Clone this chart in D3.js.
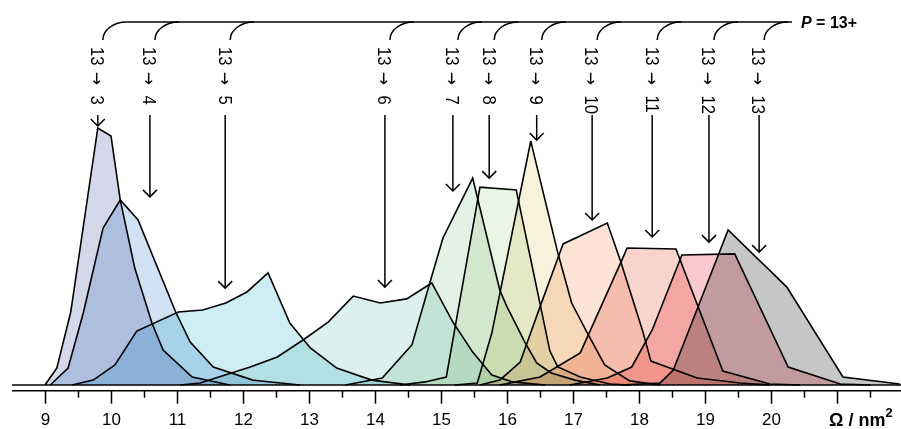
<!DOCTYPE html>
<html>
<head>
<meta charset="utf-8">
<script src="https://cdn.jsdelivr.net/npm/d3@7"></script>
<style>
  html, body { margin: 0; padding: 0; background: #fff; }
  svg { display: block; font-family: "Liberation Sans", Arial, Helvetica, sans-serif; }
  .dist { mix-blend-mode: multiply; }
</style>
</head>
<body>
<svg id="chart" width="901" height="429"></svg>
<script>
// Collision cross section distributions of the fragments from the 13+ precursor.
// Each series: [omega (nm^2), relative intensity (%)]
const precursor = "13";
const products = ["3", "4", "5", "6", "7", "8", "9", "10", "11", "12", "13"];

const dist3  = [[9.00,0],[9.18,6.6],[9.39,28.4],[9.80,100],[10.00,96.9],[10.14,72.0],[10.36,45.5],[10.62,24.1],[10.79,13.6],[11.23,3.1],[11.80,0]];
const dist4  = [[9.08,0],[9.35,6.6],[9.58,28.0],[9.88,61.1],[10.14,72.0],[10.41,64.2],[10.98,28.4],[11.20,16.7],[11.55,7.0],[12.15,1.9],[12.86,0]];
const dist5  = [[9.41,0],[9.73,1.9],[10.06,7.8],[10.39,21.0],[11.02,28.4],[11.39,29.2],[11.74,31.9],[12.06,36.2],[12.38,43.6],[12.71,24.1],[13.02,14.4],[13.42,6.6],[13.95,1.9],[14.53,0]];
const dist6  = [[11.05,0],[11.35,0.8],[12.11,7.0],[12.52,10.9],[12.91,17.5],[13.29,24.5],[13.67,34.6],[14.08,31.9],[14.48,33.5],[14.86,39.7],[15.18,24.5],[15.48,12.8],[15.77,3.9],[16.08,1.2],[16.58,0]];
const dist7  = [[13.55,0],[14.11,2.7],[14.56,15.6],[14.83,39.7],[15.03,57.2],[15.48,80.5],[15.89,37.0],[16.00,30.4],[16.27,16.7],[16.45,8.6],[16.67,4.7],[17.03,1.9],[17.41,0]];
const dist8  = [[14.38,0],[14.76,1.2],[15.08,3.1],[15.59,77.0],[16.14,75.9],[16.65,13.2],[16.77,7.0],[17.11,3.1],[17.56,0.4],[17.86,0]];
const dist9  = [[15.21,0],[15.55,0.8],[15.77,20.2],[16.36,94.9],[16.77,51.4],[16.98,31.9],[17.21,20.6],[17.48,7.8],[17.86,1.6],[18.32,0]];
const dist10 = [[15.59,0],[15.89,1.9],[16.20,8.9],[16.50,30.4],[16.85,54.9],[17.52,63.0],[17.73,47.5],[18.06,20.6],[18.18,9.3],[18.88,2.7],[19.53,0.8],[19.98,0]];
const dist11 = [[15.89,0],[16.50,3.1],[17.11,12.5],[17.74,48.6],[17.82,53.3],[18.56,52.9],[19.27,5.4],[19.98,0.4],[20.44,0]];
const dist12 = [[16.95,0],[17.52,2.7],[17.89,7.0],[18.20,21.4],[18.65,50.6],[19.45,51.0],[20.26,7.0],[21.05,0.4],[21.50,0]];
const dist13 = [[17.71,0],[18.32,0.8],[18.52,5.8],[19.35,60.3],[20.24,38.1],[21.09,3.1],[21.95,0.4]];

// Arrow annotations: omega position and the intensity the arrow points at
const arrowOmega = [9.80, 10.59, 11.73, 14.15, 15.18, 15.73, 16.45, 17.29, 18.20, 19.06, 19.82];
const arrowTip   = [100.8, 73.2, 37.7, 38.1, 75.5, 80.5, 95.3, 64.2, 57.6, 55.6, 51.7];

const majorTicks = [9, 10, 11, 12, 13, 14, 15, 16, 17, 18, 19, 20, 21];
const tickLabels = ["9", "10", "11", "12", "13", "14", "15", "16", "17", "18", "19", "20", ""];
const minorTicks = [9.5, 10.5, 11.5, 12.5, 13.5, 14.5, 15.5, 16.5, 17.5, 18.5, 19.5, 20.5, 21.5];

const series = [dist3, dist4, dist5, dist6, dist7, dist8, dist9, dist10, dist11, dist12, dist13];
const fills = ["#d5d8eb", "#cfe1f2", "#ceeef6", "#dcf0ee", "#e3f2e7", "#ebf5e3",
               "#f8f2dd", "#fde4d6", "#f9d4cd", "#f9c8cc", "#c6c6c6"];

const svg = d3.select("#chart");
const x = d3.scaleLinear().domain([8.5, 22]).range([12, 903]);
const y = d3.scaleLinear().domain([0, 100]).range([385, 128]);

// filled distributions
const area = d3.area().x(d => x(d[0])).y0(y(0)).y1(d => y(d[1]));
const line = d3.line().x(d => x(d[0])).y(d => y(d[1]));

const gDist = svg.append("g");
series.forEach((s, i) => {
  gDist.append("path").attr("class", "dist").attr("d", area(s))
    .attr("fill", fills[i]).attr("stroke", "none");
});
series.forEach(s => {
  gDist.append("path").attr("d", line(s))
    .attr("fill", "none").attr("stroke", "#000").attr("stroke-width", 1.6)
    .attr("stroke-linejoin", "miter").attr("stroke-miterlimit", 3);
});

// zero line
svg.append("line").attr("x1", 12).attr("x2", 901).attr("y1", y(0)).attr("y2", y(0))
  .attr("stroke", "#000").attr("stroke-width", 1.3);

// x axis
const axisY = 390.7;
const gMajor = svg.append("g").attr("transform", `translate(0,${axisY})`)
  .call(d3.axisBottom(x).tickValues(majorTicks).tickSize(13).tickSizeOuter(0)
    .tickFormat((d, i) => tickLabels[i]));
const gMinor = svg.append("g").attr("transform", `translate(0,${axisY})`)
  .call(d3.axisBottom(x).tickValues(minorTicks).tickSize(7).tickSizeOuter(0).tickFormat(""));
[gMajor, gMinor].forEach(g => {
  g.select(".domain").remove();
  g.selectAll(".tick line").attr("stroke", "#000").attr("stroke-width", 1.5);
});
gMajor.selectAll(".tick text").attr("y", 34.8).attr("dy", 0)
  .attr("font-size", 17).attr("fill", "#000")
  .attr("font-family", "'Liberation Sans', Arial, sans-serif");
svg.append("line").attr("x1", 12).attr("x2", 901).attr("y1", axisY).attr("y2", axisY)
  .attr("stroke", "#000").attr("stroke-width", 1.4);

// axis title
const title = svg.append("text").attr("x", 829).attr("y", 425.5)
  .attr("font-size", 18).attr("font-weight", "bold").attr("fill", "#000");
title.append("tspan").text("Ω / nm");
title.append("tspan").attr("dy", -9).attr("font-size", 13).text("2");

// fragment labels, arrows and precursor bracket
const labelTop = 47, arrowStart = 115, hookBottom = 40, barY = 22;
const gAnn = svg.append("g").attr("fill", "none").attr("stroke", "#000").attr("stroke-width", 1.5);

products.forEach((p, i) => {
  const xl = x(arrowOmega[i]);
  const t = svg.append("text")
    .attr("transform", `translate(${xl},${labelTop}) rotate(90) scale(0.88,1)`)
    .attr("font-size", 19).attr("fill", "#000");
  t.append("tspan").attr("x", 0).attr("dy", "0.35em").text(precursor);
  t.append("tspan").attr("x", 28).attr("font-family", "'DejaVu Sans', sans-serif")
    .attr("font-size", 18).text("→");
  t.append("tspan").attr("x", 55).attr("font-size", 19).text(p);

  const tip = y(arrowTip[i]);
  gAnn.append("line").attr("x1", xl).attr("x2", xl).attr("y1", arrowStart).attr("y2", tip);
  gAnn.append("path").attr("d", `M${xl - 7},${tip - 7}L${xl},${tip}L${xl + 7},${tip - 7}`);

  const hx = xl + 5;
  gAnn.append("path").attr("d", `M${hx},${hookBottom}A24,18 0 0 1 ${hx + 24},${barY}`);
});
const barStart = x(arrowOmega[0]) + 29;
gAnn.append("line").attr("x1", barStart).attr("x2", 792).attr("y1", barY).attr("y2", barY);

const pl = svg.append("text").attr("x", 801).attr("y", 27.5)
  .attr("font-size", 16).attr("font-weight", "bold").attr("fill", "#000");
pl.append("tspan").attr("font-style", "italic").text("P");
pl.append("tspan").text(" = 13+");
</script>
</body>
</html>
